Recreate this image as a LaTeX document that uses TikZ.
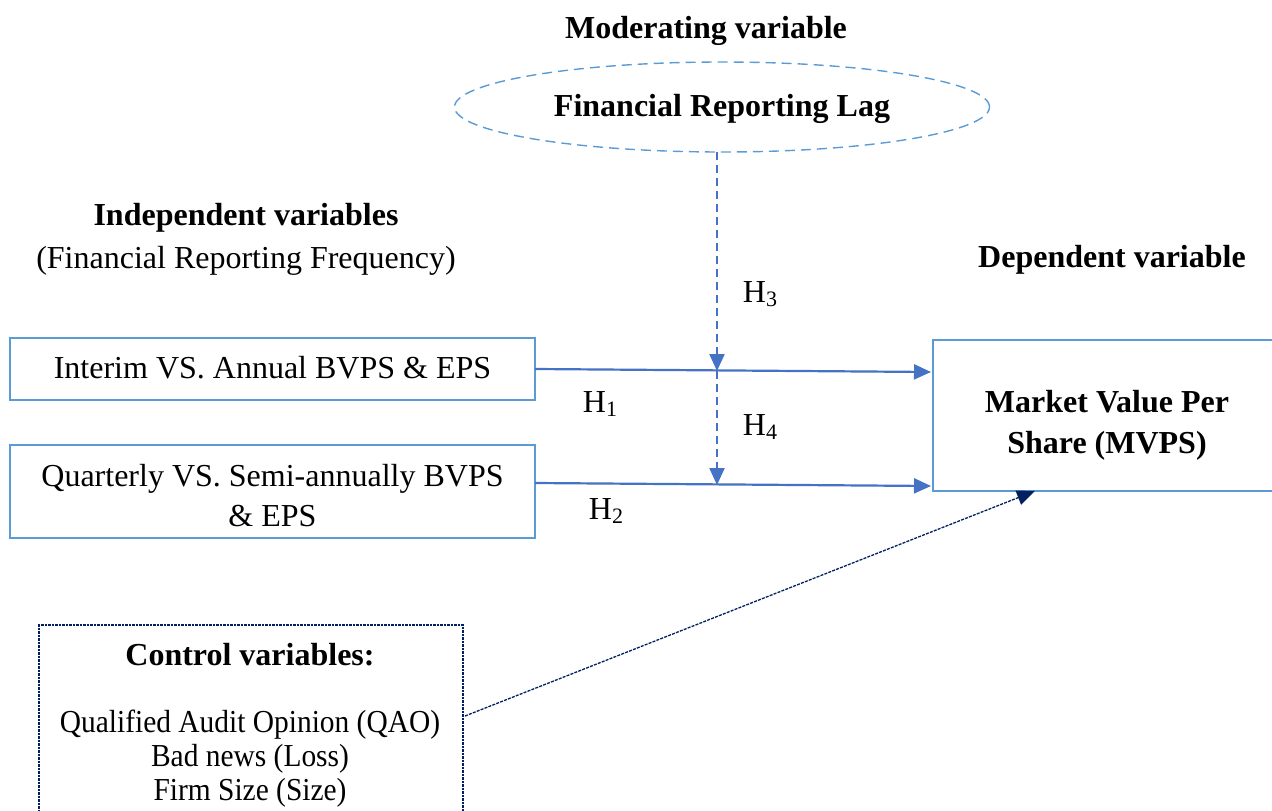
\documentclass[tikz,border=0pt]{standalone}
\usepackage{fontspec}
\setmainfont{Liberation Serif}
\usetikzlibrary{shapes.geometric,arrows.meta}
\definecolor{boxblue}{RGB}{91,155,213}
\definecolor{arrblue}{RGB}{68,114,196}
\definecolor{navy}{RGB}{0,32,96}
\tikzset{
  txt/.style={font=\fontsize{32}{40}\selectfont, inner sep=0pt, align=center},
  btxt/.style={txt, font=\fontsize{32}{41}\selectfont\bfseries},
  ivbox/.style={draw=boxblue, line width=1.5pt, inner sep=0pt},
  mainarr/.style={draw=arrblue, line width=2.2pt, -{Triangle[length=17pt,width=15pt]}},
  modarr/.style={draw=arrblue, line width=2.2pt, dash pattern=on 8pt off 5pt, -{Triangle[length=17pt,width=15pt]}},
  ctrlarr/.style={draw=navy, line width=1.3pt, dash pattern=on 3pt off 1.2pt, -{Triangle[length=18pt,width=15pt]}},
}
\newcommand{\hyp}[1]{H\raisebox{-0.25ex}{\fontsize{22}{22}\selectfont #1}}
\begin{document}
\begin{tikzpicture}[x=1pt,y=-1pt]
\useasboundingbox (0,0) rectangle (1272,811);
% titles
\node[btxt] (modtitle) at (706,31) {Moderating variable};
\node[btxt] (indtitle) at (246,218) {Independent variables};
\node[txt] (indsub) at (246,261) {(Financial Reporting Frequency)};
\node[btxt] (deptitle) at (1112,260) {Dependent variable};
% moderating ellipse
\node[ellipse, draw=boxblue, line width=1.4pt, dash pattern=on 10pt off 6pt,
      minimum width=535pt, minimum height=90pt, inner sep=0pt] (lag) at (722,107) {};
\node[btxt] (lagtxt) at (722,109) {Financial Reporting Lag};
% independent boxes
\node[ivbox, minimum width=525pt, minimum height=62pt] (b1) at (272.5,369) {};
\node[txt] (b1txt) at (272.5,368) {Interim VS. Annual BVPS \& EPS};
\node[ivbox, minimum width=525pt, minimum height=93pt] (b2) at (272.5,491.5) {};
\node[txt] (b2txt) at (272.5,496) {Quarterly VS. Semi-annually BVPS\\\& EPS};
% dependent box
\node[ivbox, minimum width=357pt, minimum height=151pt] (mv) at (1111.5,415.5) {};
\node[btxt] (mvtxt) at (1107,425) {Market Value Per\\Share (MVPS)};
% control box
\node[draw=navy, line width=1.2pt, dash pattern=on 2.5pt off 1pt,
      minimum width=424pt, minimum height=210pt, inner sep=0pt] (ctrl) at (251,730) {};
\node[btxt] (ctrltitle) at (250,655) {Control variables:};
\node[txt, font=\fontsize{32}{34}\selectfont] (ctrltxt) at (250,759)
  {\scalebox{0.92}[1]{Qualified Audit Opinion (QAO)}\\\scalebox{0.92}[1]{Bad news (Loss)}\\\scalebox{0.92}[1]{Firm Size (Size)}};
% coordinates
\coordinate (s1) at (535,369);
\coordinate (e1) at (931,372);
\coordinate (s2) at (535,483);
\coordinate (e2) at (931,486);
\coordinate (top) at (717,152);
\coordinate (m1) at (717,371);
\coordinate (m2) at (717,485);
\coordinate (cs) at (465,716);
\coordinate (ce) at (1035,491);
% arrows
\draw[mainarr] (s1) -- (e1);
\draw[mainarr] (s2) -- (e2);
\draw[modarr] (top) -- (m1);
\draw[modarr] (m1) -- (m2);
\draw[ctrlarr] (cs) -- (ce);
% hypothesis labels
\node[txt] (h3) at (760,294) {\hyp{3}};
\node[txt] (h1) at (600,404) {\hyp{1}};
\node[txt] (h4) at (760,427) {\hyp{4}};
\node[txt] (h2) at (606,511) {\hyp{2}};
\end{tikzpicture}
\end{document}
